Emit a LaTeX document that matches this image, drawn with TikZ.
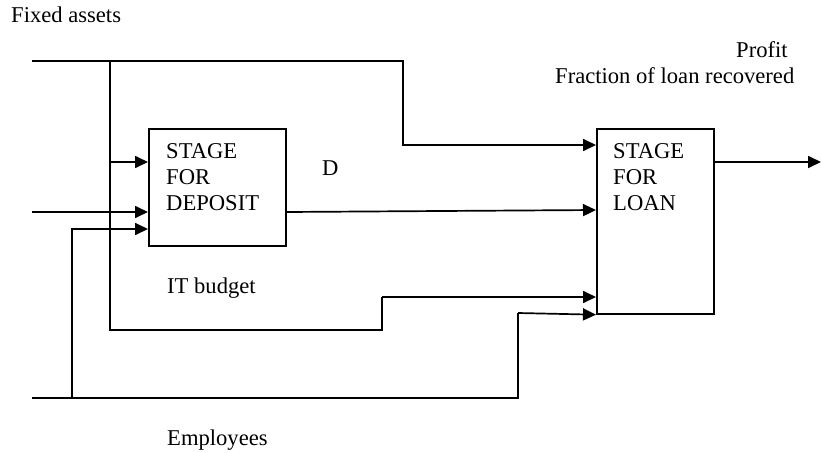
\documentclass[tikz,border=0pt]{standalone}
\usepackage{fontspec}
\setmainfont{Liberation Serif}
\usetikzlibrary{arrows.meta}
\begin{document}
\begin{tikzpicture}[x=1pt,y=-1pt,
  wire/.style={line width=1.7pt, line join=miter},
  arr/.style={wire, -{Triangle[length=13pt,width=12pt]}},
  stagebox/.style={draw, line width=1.7pt, rectangle, inner sep=0pt, anchor=north west},
  lbl/.style={anchor=base west, inner sep=0pt, font=\fontsize{22.6}{26}\selectfont}]
\useasboundingbox (0,0) rectangle (821,452);
% boxes
\node[stagebox, minimum width=137pt, minimum height=117pt] (dep) at (148,128) {};
\node[stagebox, minimum width=117pt, minimum height=185pt] (loan) at (596,128) {};
% box texts
\node[lbl] (d1) at (166,158) {STAGE};
\node[lbl] (d2) at (166,184) {FOR};
\node[lbl] (d3) at (166,210) {DEPOSIT};
\node[lbl] (l1) at (613,158) {STAGE};
\node[lbl] (l2) at (613,184) {FOR};
\node[lbl] (l3) at (613,210) {LOAN};
% labels
\node[lbl] (fa) at (11,23) {Fixed assets};
\node[lbl] (pr) at (736,57) {Profit};
\node[lbl] (fr) at (555,83) {Fraction of loan recovered};
\node[lbl] (dl) at (322,175) {D};
\node[lbl] (it) at (167,293) {IT budget};
\node[lbl] (em) at (167,445) {Employees};
% free ends
\coordinate (inFA) at (32,61);
\coordinate (inMid) at (32,212);
\coordinate (inEm) at (32,398);
\coordinate (out) at (821,162);
% fixed assets
\draw[arr] (inFA) -- (403,61) |- (loan.north west |- 0,145);
\draw[arr] (110,61) |- (dep.north west |- 0,162);
% IT budget
\draw[wire] (110,162) -- (110,330) -- (382,330) -- (382,297);
\draw[arr] (382,297) -- (loan.north west |- 0,297);
% middle input
\draw[arr] (inMid) -- (dep.north west |- 0,212);
% employees
\draw[wire] (inEm) -- (518,398) -- (518,313);
\draw[arr] (518,313) -- (loan.south west);
\draw[arr] (72,398) |- (dep.north west |- 0,229);
% D
\draw[arr] (dep.north east |- 0,212) -- (loan.north west |- 0,210);
% output
\draw[arr] (loan.north east |- 0,162) -- (out);
\end{tikzpicture}
\end{document}
